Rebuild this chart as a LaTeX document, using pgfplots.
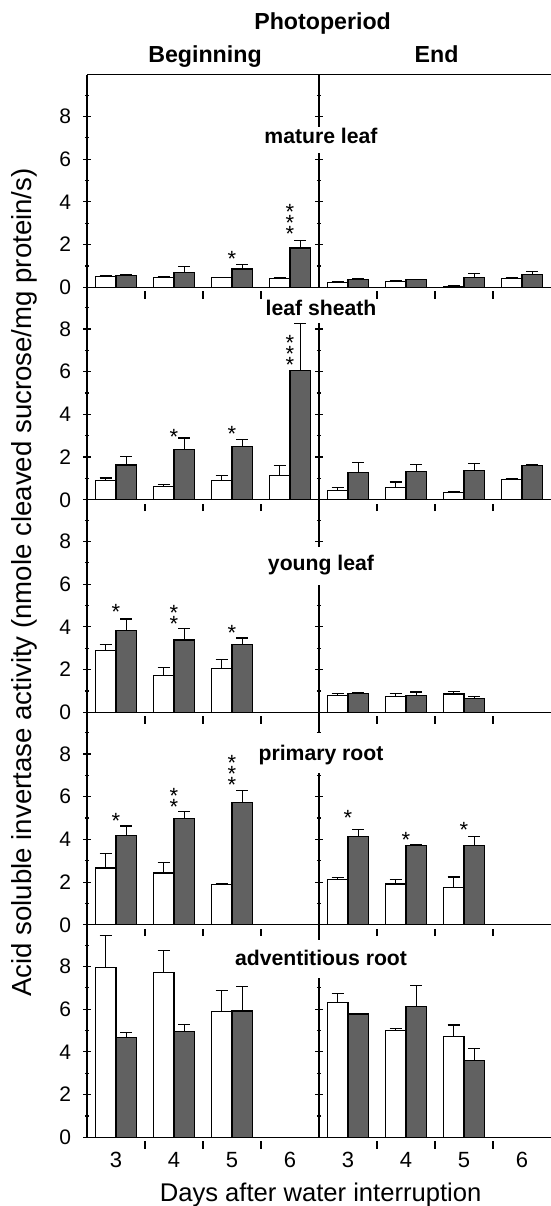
\documentclass[border=0pt]{standalone}
\usepackage{fontspec}
\setmainfont{Liberation Sans}
\usepackage{pgfplots}
\pgfplotsset{compat=1.18}
\pgfplotsset{
  base/.style={scale only axis, height=106.25pt, ymin=0, ymax=9.95,
    tick align=inside, major tick length=3.8pt, minor tick length=2.2pt,
    ytick={0,2,4,6,8}, minor ytick={1,3,5,7,9},
    every tick/.style={black, line width=0.6pt},
    clip=false, /pgf/number format/assume math mode=true,
    tick label style={font=\fontsize{10.5}{12}\selectfont}},
  mainp/.style={base, anchor=south west, at={(43.5pt,#1)}, width=232pt,
    xmin=0, xmax=8, axis lines=left, axis line style={-, line width=0.6pt},
    xtick={1,2,3,5,6,7}, xticklabels={}, xtick style={yshift=-3.8pt},
    yticklabel style={xshift=-2.5pt}},
  divp/.style={base, anchor=south west, at={(159.5pt,#1)}, width=116pt,
    xmin=0, xmax=1, axis y line=left, axis x line=none,
    axis line style={-, line width=0.6pt}, yticklabels={}},
  barbase/.style={ybar, bar width=0.36, bar shift=0pt, draw=black,
    line width=0.6pt, mark=none,
    error bars/y dir=plus, error bars/y explicit,
    error bars/error bar style={line width=0.6pt, black},
    error bars/error mark options={rotate=90, mark size=3pt, line width=0.6pt, black}},
  wbar/.style={barbase, fill=white},
  gbar/.style={barbase, fill=black!62},
}
\newcommand\stwo{\rlap{*}\raisebox{5.4pt}{*}}
\newcommand\sthree{\rlap{*}\raisebox{5.4pt}{\rlap{*}}\raisebox{10.8pt}{*}}
\tikzset{st/.style={anchor=base, inner sep=0pt, font=\fontsize{11}{12}\selectfont},
  lab/.style={anchor=base, font=\bfseries\fontsize{10.6}{12}\selectfont, inner sep=0pt}}
\begin{document}
\begin{tikzpicture}
\useasboundingbox (0,0) rectangle (275.5pt,-603pt);
% ---------- row 1: mature leaf
\begin{axis}[mainp={-143.65pt}]
\addplot[wbar] coordinates {(0.32,0.50) +- (0,0.03) (1.32,0.47) +- (0,0.03) (2.32,0.45) +- (0,0.02) (3.32,0.42) +- (0,0.02)
 (4.32,0.24) +- (0,0.01) (5.32,0.28) +- (0,0.02) (6.32,0.05) +- (0,0.01) (7.32,0.42) +- (0,0.02)};
\addplot[gbar] coordinates {(0.68,0.55) +- (0,0.03) (1.68,0.70) +- (0,0.27) (2.68,0.86) +- (0,0.19) (3.68,1.84) +- (0,0.36)
 (4.68,0.38) +- (0,0.03) (5.68,0.35) +- (0,0.03) (6.68,0.47) +- (0,0.16) (7.68,0.61) +- (0,0.13)};
\node[st] at (axis cs:2.5,0.98) {*};
\node[st] at (axis cs:3.5,2.16) {\sthree};
\end{axis}
\begin{axis}[divp={-143.65pt}]\end{axis}
% ---------- row 2: leaf sheath
\begin{axis}[mainp={-249.9pt}]
\addplot[wbar] coordinates {(0.32,0.89) +- (0,0.13) (1.32,0.63) +- (0,0.10) (2.32,0.91) +- (0,0.23) (3.32,1.13) +- (0,0.47)
 (4.32,0.42) +- (0,0.16) (5.32,0.56) +- (0,0.27) (6.32,0.34) +- (0,0.03) (7.32,0.95) +- (0,0.05)};
\addplot[gbar] coordinates {(0.68,1.63) +- (0,0.39) (1.68,2.34) +- (0,0.55) (2.68,2.50) +- (0,0.31) (3.68,6.05) +- (0,2.19)
 (4.68,1.28) +- (0,0.47) (5.68,1.33) +- (0,0.34) (6.68,1.36) +- (0,0.33) (7.68,1.60) +- (0,0.07)};
\node[st] at (axis cs:1.5,2.61) {*};
\node[st] at (axis cs:2.5,2.72) {*};
\node[st] at (axis cs:3.5,5.97) {\sthree};
\end{axis}
\begin{axis}[divp={-249.9pt}]\end{axis}
% ---------- row 3: young leaf
\begin{axis}[mainp={-356.15pt}]
\addplot[wbar] coordinates {(0.32,2.89) +- (0,0.28) (1.32,1.72) +- (0,0.36) (2.32,2.06) +- (0,0.41)
 (4.32,0.80) +- (0,0.07) (5.32,0.75) +- (0,0.14) (6.32,0.86) +- (0,0.12)};
\addplot[gbar] coordinates {(0.68,3.84) +- (0,0.53) (1.68,3.39) +- (0,0.52) (2.68,3.17) +- (0,0.31)
 (4.68,0.89) +- (0,0.05) (5.68,0.80) +- (0,0.15) (6.68,0.64) +- (0,0.09)};
\node[st] at (axis cs:0.5,4.36) {*};
\node[st] at (axis cs:1.5,3.79) {\stwo};
\node[st] at (axis cs:2.5,3.35) {*};
\end{axis}
\begin{axis}[divp={-356.15pt}]\end{axis}
% ---------- row 4: primary root
\begin{axis}[mainp={-462.4pt}]
\addplot[wbar] coordinates {(0.32,2.66) +- (0,0.67) (1.32,2.43) +- (0,0.49) (2.32,1.88) +- (0,0.06)
 (4.32,2.14) +- (0,0.08) (5.32,1.91) +- (0,0.20) (6.32,1.75) +- (0,0.49)};
\addplot[gbar] coordinates {(0.68,4.19) +- (0,0.44) (1.68,4.98) +- (0,0.31) (2.68,5.74) +- (0,0.56)
 (4.68,4.12) +- (0,0.34) (5.68,3.72) +- (0,0.03) (6.68,3.71) +- (0,0.44)};
\node[st] at (axis cs:0.5,4.49) {*};
\node[st] at (axis cs:1.5,5.16) {\stwo};
\node[st] at (axis cs:2.5,6.21) {\sthree};
\node[st] at (axis cs:4.5,4.64) {*};
\node[st] at (axis cs:5.5,3.63) {*};
\node[st] at (axis cs:6.5,4.10) {*};
\end{axis}
\begin{axis}[divp={-462.4pt}]\end{axis}
% ---------- row 5: adventitious root
\begin{axis}[mainp={-568.65pt},
  extra x ticks={0.5,1.5,2.5,3.5,4.5,5.5,6.5,7.5},
  extra x tick labels={3,4,5,6,3,4,5,6},
  extra x tick style={major tick length=0pt},
  xticklabel style={yshift=-3.9pt, font=\fontsize{11}{12}\selectfont}]
\addplot[wbar] coordinates {(0.32,7.95) +- (0,1.50) (1.32,7.70) +- (0,1.03) (2.32,5.88) +- (0,1.00)
 (4.32,6.31) +- (0,0.44) (5.32,5.02) +- (0,0.06) (6.32,4.73) +- (0,0.53)};
\addplot[gbar] coordinates {(0.68,4.69) +- (0,0.22) (1.68,4.95) +- (0,0.35) (2.68,5.91) +- (0,1.15)
 (4.68,5.77) +- (0,0.03) (5.68,6.13) +- (0,0.96) (6.68,3.58) +- (0,0.56)};
\end{axis}
\begin{axis}[divp={-568.65pt}]\end{axis}
% ---------- frame top, gaps and labels
\draw[line width=0.6pt] (43.5pt,-37.4pt) -- (275.5pt,-37.4pt);
\fill[white] (157pt,-63.5pt) rectangle (164.5pt,-76.5pt);
\fill[white] (157pt,-144.2pt) rectangle (164.5pt,-161.5pt);
\fill[white] (157pt,-273.5pt) rectangle (164.5pt,-292.5pt);
\fill[white] (157pt,-366.5pt) rectangle (164.5pt,-386.5pt);
\fill[white] (157pt,-470pt) rectangle (164.5pt,-489pt);
\node[lab] at (160.5pt,-71.65pt) {mature leaf};
\node[lab] at (160.5pt,-157.5pt) {leaf sheath};
\node[lab] at (160.5pt,-285pt) {young leaf};
\node[lab] at (160.5pt,-380pt) {primary root};
\node[lab] at (160.5pt,-482.5pt) {adventitious root};
\node[anchor=base, font=\bfseries\fontsize{11.6}{13}\selectfont] at (161.3pt,-14.5pt) {Photoperiod};
\node[anchor=base, font=\bfseries\fontsize{11.6}{13}\selectfont] at (102.5pt,-31pt) {Beginning};
\node[anchor=base, font=\bfseries\fontsize{11.6}{13}\selectfont] at (218.3pt,-31pt) {End};
\node[anchor=base, font=\fontsize{12.8}{14}\selectfont] at (160.3pt,-600.8pt) {Days after water interruption};
\node[rotate=90, font=\fontsize{13.8}{15}\selectfont] at (12pt,-291.25pt) {Acid soluble invertase activity (nmole cleaved sucrose/mg protein/s)};
\end{tikzpicture}
\end{document}
